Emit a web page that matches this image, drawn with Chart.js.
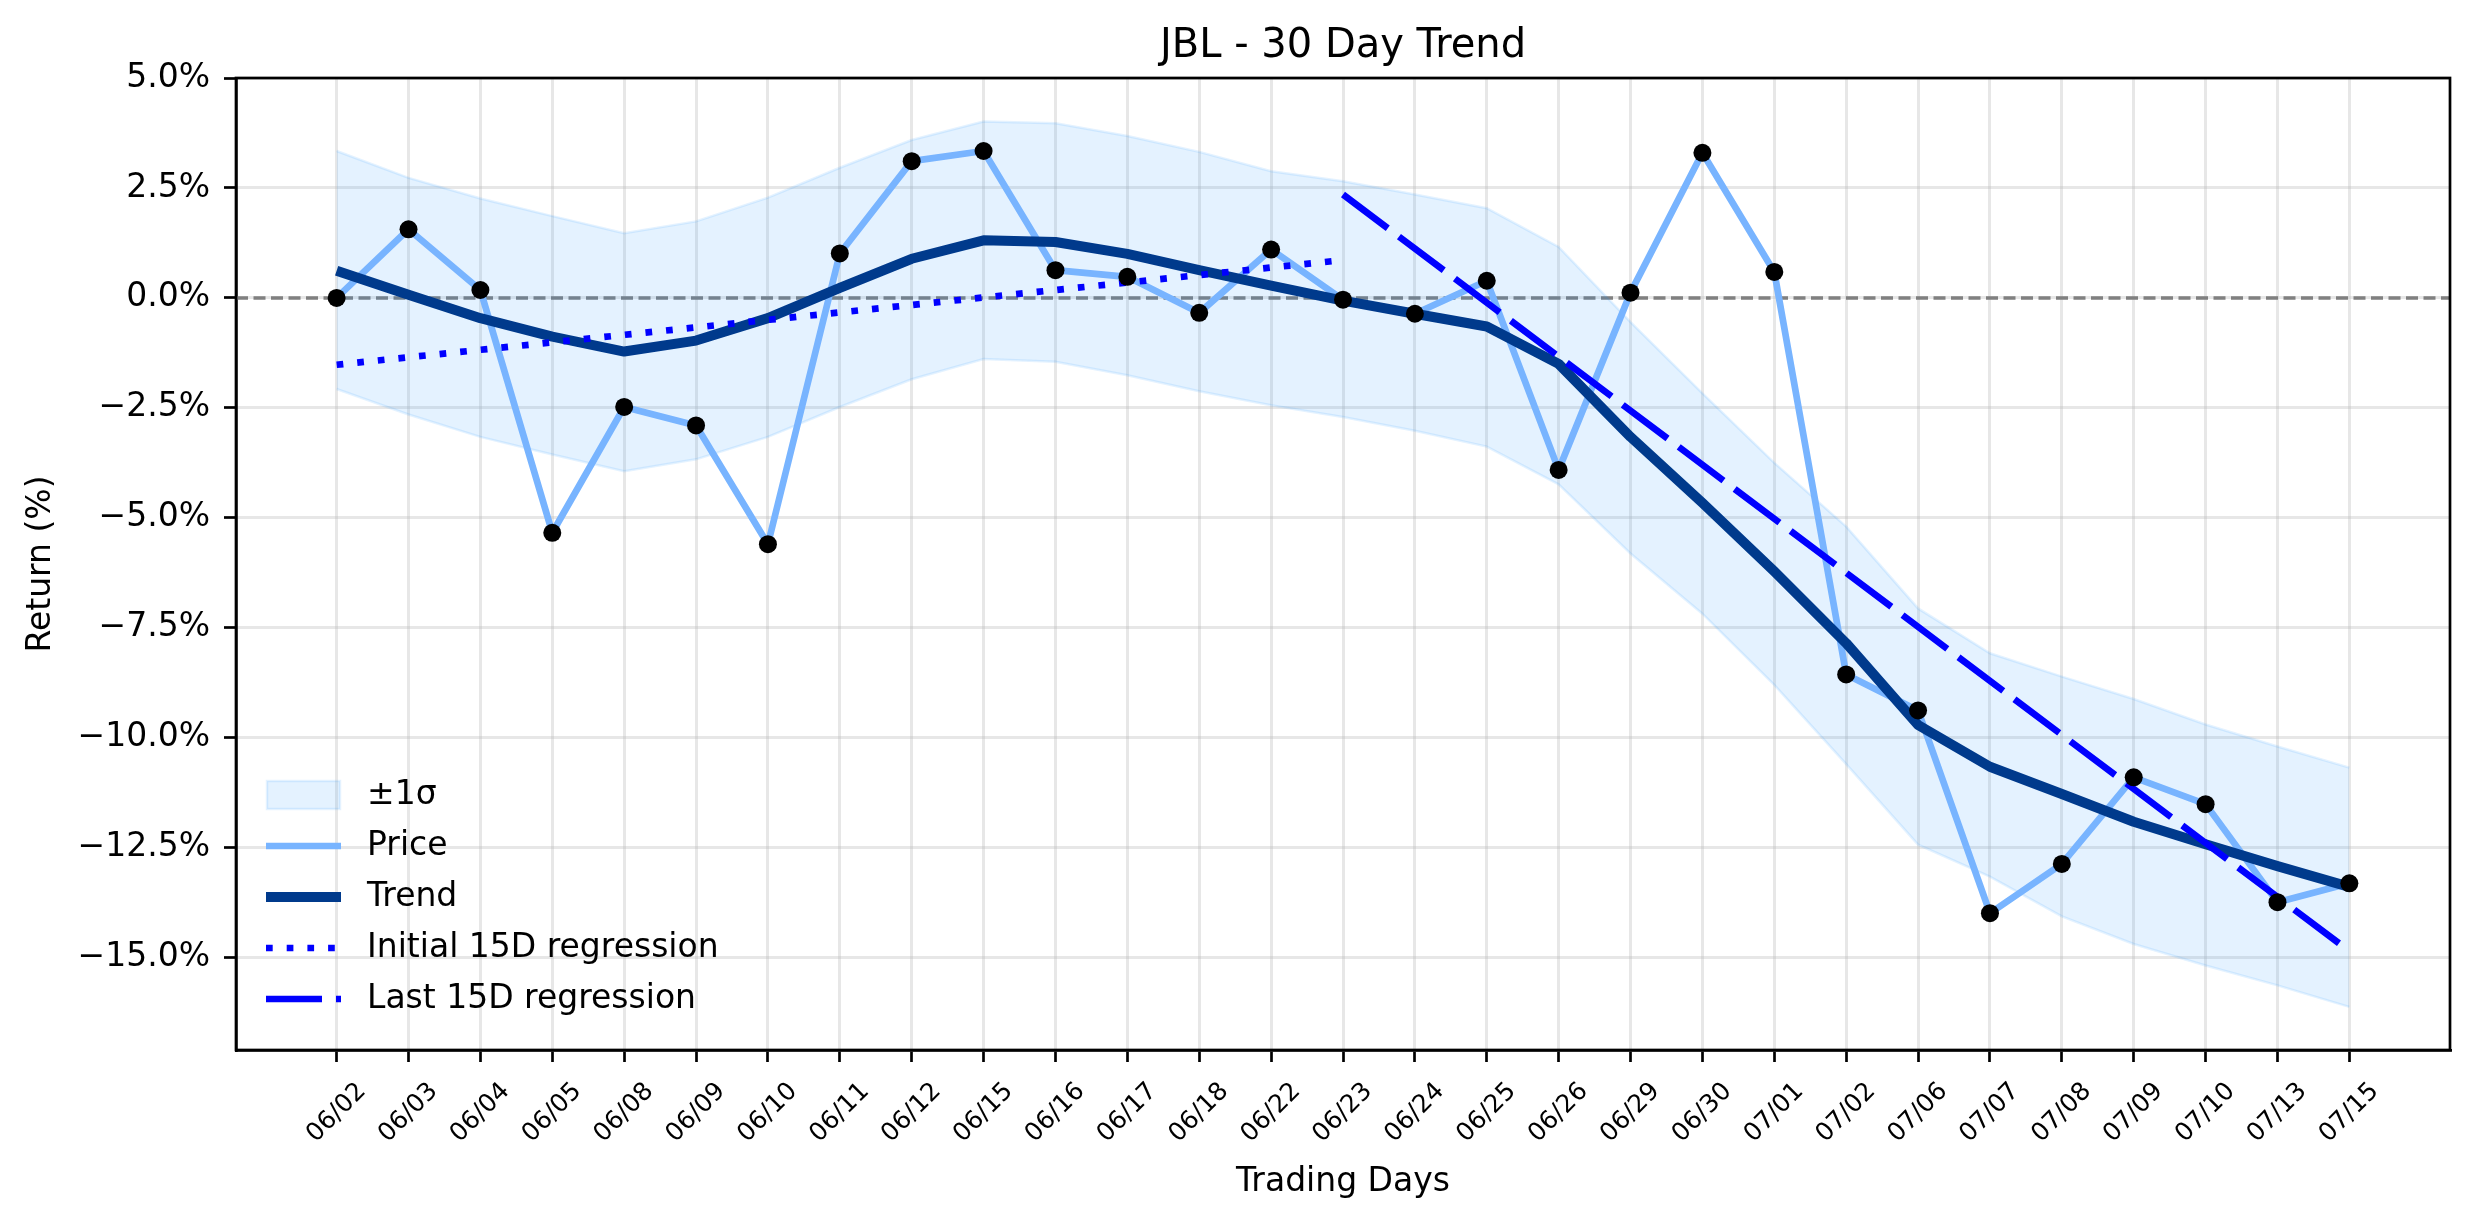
<!DOCTYPE html>
<html>
<head>
<meta charset="utf-8">
<title>JBL - 30 Day Trend</title>
<script src="https://cdn.jsdelivr.net/npm/chart.js@4.4.1/dist/chart.umd.min.js"></script>
<style>
  html, body { margin: 0; padding: 0; background: #fff; }
  #wrap { width: 2474px; height: 1224px; position: relative; }
</style>
</head>
<body>
<div id="wrap"><canvas id="myChart"></canvas></div>
<script>
// values (returns in %)
const days = ['06/02','06/03','06/04','06/05','06/08','06/09','06/10','06/11','06/12','06/15',
              '06/16','06/17','06/18','06/22','06/23','06/24','06/25','06/26','06/29','06/30',
              '07/01','07/02','07/06','07/07','07/08','07/09','07/10','07/13','07/15'];
const price = [0.00, 1.56, 0.18, -5.34, -2.48, -2.90, -5.60, 1.01, 3.11, 3.34,
               0.63, 0.48, -0.34, 1.10, -0.04, -0.36, 0.39, -3.91, 0.12, 3.30,
               0.59, -8.56, -9.38, -13.99, -12.87, -10.90, -11.51, -13.74, -13.31];
const trend = [0.62, 0.07, -0.46, -0.88, -1.22, -0.97, -0.46, 0.23, 0.89, 1.31,
               1.27, 1.00, 0.63, 0.28, -0.06, -0.36, -0.65, -1.50, -3.16, -4.66,
               -6.22, -7.85, -9.71, -10.66, -11.28, -11.91, -12.42, -12.92, -13.39];
const bandUpper = [3.34, 2.73, 2.26, 1.86, 1.47, 1.74, 2.28, 2.96, 3.59, 4.01,
                   3.97, 3.68, 3.32, 2.88, 2.65, 2.35, 2.04, 1.16, -0.55, -2.17,
                   -3.75, -5.20, -7.06, -8.08, -8.61, -9.12, -9.70, -10.20, -10.68];
const bandLower = [-2.07, -2.65, -3.16, -3.56, -3.94, -3.67, -3.16, -2.48, -1.85, -1.39,
                   -1.45, -1.76, -2.12, -2.44, -2.71, -3.02, -3.38, -4.24, -5.81, -7.18,
                   -8.80, -10.60, -12.43, -13.16, -14.06, -14.69, -15.18, -15.63, -16.12];
const firstRegDays = [0, 14];
const firstReg = [-1.52, 0.86];
const lastRegDays = [14, 28];
const lastReg = [2.35, -14.85];
const yTicks = [5, 2.5, 0, -2.5, -5, -7.5, -10, -12.5, -15];

const FONT = 'DejaVu Sans';
Chart.defaults.font.family = FONT;
Chart.defaults.color = '#000';

const bandColor = 'rgba(30,144,255,0.12)';
const priceColor = '#78b4ff';
const trendColor = '#003a8c';
const regColor = '#0000ff';

function pts(vals, xs) {
    return vals.map((v, i) => ({ x: xs ? xs[i] : i, y: v }));
}

// zero line, frame, title, legend and rotated day labels
const extras = {
    id: 'extras',
    beforeDatasetsDraw(chart) {
        const { ctx, chartArea: a, scales: { y } } = chart;
        const y0 = y.getPixelForValue(0);
        ctx.save();
        ctx.strokeStyle = '#808080';
        ctx.lineWidth = 3.5;
        ctx.setLineDash([12, 5.5]);
        ctx.beginPath();
        ctx.moveTo(a.left, y0);
        ctx.lineTo(a.right, y0);
        ctx.stroke();
        ctx.restore();
    },
    afterDraw(chart) {
        const { ctx, chartArea: a, scales: { x } } = chart;
        ctx.save();
        // frame
        ctx.strokeStyle = '#000';
        ctx.lineWidth = 2.7;
        ctx.strokeRect(a.left, a.top, a.right - a.left, a.bottom - a.top);

        // title
        ctx.fillStyle = '#000';
        ctx.font = '40px "' + FONT + '"';
        ctx.textAlign = 'center';
        ctx.textBaseline = 'alphabetic';
        ctx.fillText('JBL - 30 Day Trend', (a.left + a.right) / 2, 57);

        // x tick labels, rotated 45 and centred on the tick
        ctx.font = '25px "' + FONT + '"';
        ctx.textBaseline = 'middle';
        days.forEach((d, i) => {
            const px = x.getPixelForValue(i);
            ctx.save();
            ctx.translate(px, a.bottom + 63);
            ctx.rotate(-Math.PI / 4);
            ctx.fillText(d, 0, 0);
            ctx.restore();
        });

        // legend
        const lx0 = 266, lx1 = 341, tx = 367;
        const rows = [795, 846, 897, 948, 999];
        ctx.font = '33px "' + FONT + '"';
        ctx.textAlign = 'left';
        ctx.textBaseline = 'middle';

        ctx.fillStyle = bandColor;
        ctx.fillRect(267, rows[0] - 14, 73, 28);
        ctx.strokeStyle = bandColor;
        ctx.lineWidth = 2.5;
        ctx.strokeRect(267, rows[0] - 14, 73, 28);

        const legendLine = (yy, color, w, dash) => {
            ctx.strokeStyle = color;
            ctx.lineWidth = w;
            ctx.setLineDash(dash);
            ctx.beginPath();
            ctx.moveTo(lx0, yy);
            ctx.lineTo(lx1, yy);
            ctx.stroke();
            ctx.setLineDash([]);
        };
        legendLine(rows[1], priceColor, 6.7, []);
        legendLine(rows[2], trendColor, 10, []);
        legendLine(rows[3], regColor, 6.7, [6.7, 14]);
        legendLine(rows[4], regColor, 6.7, [56, 14]);

        ctx.fillStyle = '#000';
        const labels = ['\u00b11\u03c3', 'Price', 'Trend', 'Initial 15D regression', 'Last 15D regression'];
        labels.forEach((t, i) => ctx.fillText(t, tx, rows[i]));
        ctx.restore();
    }
};

const gridColor = 'rgba(176,176,176,0.3)';

new Chart(document.getElementById('myChart'), {
    type: 'line',
    data: {
        datasets: [
            {
                label: 'Price points',
                data: pts(price),
                showLine: false,
                pointRadius: 9,
                pointBackgroundColor: '#000',
                pointBorderWidth: 0,
                order: 0
            },
            {
                label: 'Last 15D regression',
                data: pts(lastReg, lastRegDays),
                borderColor: regColor,
                borderWidth: 6.7,
                borderDash: [56, 14],
                pointRadius: 0,
                fill: false,
                order: 1
            },
            {
                label: 'Initial 15D regression',
                data: pts(firstReg, firstRegDays),
                borderColor: regColor,
                borderWidth: 6.7,
                borderDash: [6.7, 14],
                pointRadius: 0,
                fill: false,
                order: 2
            },
            {
                label: 'Trend',
                data: pts(trend),
                borderColor: trendColor,
                borderWidth: 10,
                borderJoinStyle: 'round',
                pointRadius: 0,
                fill: false,
                order: 3
            },
            {
                label: 'Price',
                data: pts(price),
                borderColor: priceColor,
                borderWidth: 6.7,
                borderJoinStyle: 'round',
                pointRadius: 0,
                fill: false,
                order: 4
            },
            {
                label: '\u00b11\u03c3',
                data: pts(bandUpper),
                borderColor: bandColor,
                borderWidth: 2.5,
                backgroundColor: bandColor,
                pointRadius: 0,
                fill: '+1',
                order: 5
            },
            {
                label: 'lower',
                data: pts(bandLower),
                borderColor: bandColor,
                borderWidth: 2.5,
                pointRadius: 0,
                fill: false,
                order: 6
            }
        ]
    },
    options: {
        responsive: true,
        maintainAspectRatio: false,
        animation: false,
        devicePixelRatio: 1,
        layout: { padding: { top: 78, right: 24, left: 0, bottom: 0 } },
        plugins: {
            legend: { display: false },
            tooltip: { enabled: false },
            title: { display: false }
        },
        scales: {
            x: {
                type: 'linear',
                min: -1.4,
                max: 29.4,
                afterBuildTicks: s => { s.ticks = days.map((d, i) => ({ value: i })); },
                afterFit: s => { s.height = 174; },
                ticks: { display: false },
                grid: { color: gridColor, lineWidth: 3, tickColor: '#000', tickLength: 12, tickWidth: 2.7 },
                border: { color: '#000', width: 2.7 },
                title: {
                    display: true,
                    text: 'Trading Days',
                    font: { family: FONT, size: 33 },
                    color: '#000',
                    padding: { top: 0, bottom: 22 }
                }
            },
            y: {
                min: -17.1,
                max: 5.0,
                afterBuildTicks: s => { s.ticks = yTicks.map(v => ({ value: v })); },
                afterFit: s => { s.width = 236; },
                ticks: {
                    font: { family: FONT, size: 33 },
                    color: '#000',
                    padding: 14,
                    callback: v => (v < 0 ? '\u2212' : '') + Math.abs(v).toFixed(1) + '%'
                },
                grid: { color: gridColor, lineWidth: 3, tickColor: '#000', tickLength: 12, tickWidth: 2.7 },
                border: { color: '#000', width: 2.7 },
                title: {
                    display: true,
                    text: 'Return (%)',
                    font: { family: FONT, size: 33 },
                    color: '#000',
                    padding: { top: 22, bottom: 0 }
                }
            }
        }
    },
    plugins: [extras]
});
</script>
</body>
</html>
